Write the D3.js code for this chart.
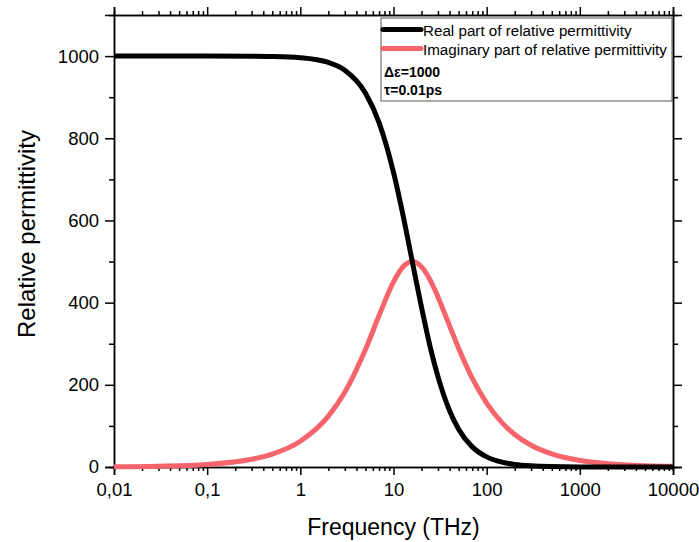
<!DOCTYPE html>
<html>
<head>
<meta charset="utf-8">
<script src="https://cdn.jsdelivr.net/npm/d3@7"></script>
<style>
  body { margin: 0; background: #fff; }
  svg { font-family: "Liberation Sans", Arial, sans-serif; }
</style>
</head>
<body>
<div id="chart"></div>
<script>
// values (frequency in THz)
const freq = [0.01, 0.03, 0.1, 0.3, 0.5, 1, 2, 3, 5, 7, 10, 13, 16, 20, 25, 30, 40, 50, 70, 100, 150, 200, 300, 500, 1000, 2000, 5000, 10000]
const realPart = [1000, 1000, 1000, 999.6, 999, 996, 984.5, 965.7, 910, 838, 717, 600, 497, 388, 288, 220, 137, 92, 49, 24.7, 11.1, 6.3, 2.8, 1, 0.25, 0.06, 0, 0]
const imagPart = [0.6, 1.9, 6.3, 18.8, 31.4, 62.6, 123.7, 182, 286, 368.5, 450.5, 490, 500, 487, 453, 414, 343.6, 289, 216, 155.3, 104.9, 79.1, 52.9, 31.8, 15.9, 8, 3.2, 1.6]
const xTicks = [0.01, 0.1, 1, 10, 100, 1000, 10000]
const xTickLabels = ['0,01', '0,1', '1', '10', '100', '1000', '10000']
const yTicks = [0, 200, 400, 600, 800, 1000]
const legendLabels = ['Real part of relative permittivity', 'Imaginary part of relative permittivity']
const noteLines = ['\u0394\u03b5=1000', '\u03c4=0.01ps']

const width = 699
const height = 542
const margin = { top: 15, right: 26, bottom: 75, left: 114 }
const colors = ['#000000', '#f6646c']
const innerW = width - margin.left - margin.right
const innerH = height - margin.top - margin.bottom

const svg = d3.select('#chart').append('svg').attr('width', width).attr('height', height)
const g = svg.append('g').attr('transform', `translate(${margin.left}, ${margin.top})`)

const x = d3.scaleLog().domain([0.01, 10000]).range([0, innerW])
const y = d3.scaleLinear().domain([0, 1100]).range([innerH, 0])

// minor ticks on log axis: 2..9 of each decade
const minorX = []
for (let e = -2; e < 4; e++) {
  for (let m = 2; m < 10; m++) minorX.push(m * Math.pow(10, e))
}
const minorY = [100, 300, 500, 700, 900]

function styleAxis(sel) {
  sel.select('.domain').attr('stroke', '#000').attr('stroke-width', 1.5)
  sel.selectAll('.tick line').attr('stroke', '#000').attr('stroke-width', 1.5)
  sel.selectAll('.tick text').attr('font-size', 18.5).attr('fill', '#000')
}

// minor ticks first
g.append('g').attr('transform', `translate(0, ${innerH})`)
  .call(d3.axisBottom(x).tickValues(minorX).tickSize(4).tickFormat(''))
  .call(styleAxis)
g.append('g')
  .call(d3.axisTop(x).tickValues(minorX).tickSize(4).tickFormat(''))
  .call(styleAxis)
g.append('g')
  .call(d3.axisLeft(y).tickValues(minorY).tickSize(5).tickFormat(''))
  .call(styleAxis)
g.append('g').attr('transform', `translate(${innerW}, 0)`)
  .call(d3.axisRight(y).tickValues(minorY).tickSize(5).tickFormat(''))
  .call(styleAxis)

// major ticks
g.append('g').attr('transform', `translate(0, ${innerH})`)
  .call(d3.axisBottom(x).tickValues(xTicks).tickSize(8).tickPadding(8).tickFormat((d, i) => xTickLabels[i]))
  .call(styleAxis)
g.append('g')
  .call(d3.axisTop(x).tickValues(xTicks).tickSize(8).tickFormat(''))
  .call(styleAxis)
g.append('g')
  .call(d3.axisLeft(y).tickValues(yTicks).tickSize(9).tickPadding(6).tickFormat(d3.format('d')))
  .call(styleAxis)
g.append('g').attr('transform', `translate(${innerW}, 0)`)
  .call(d3.axisRight(y).tickValues(yTicks).tickSize(9).tickFormat(''))
  .call(styleAxis)

// curves
const series = [realPart, imagPart]
const line = d3.line()
  .x(d => x(d[0]))
  .y(d => y(d[1]))
  .curve(d3.curveMonotoneX)

;[1, 0].forEach(k => {
  g.append('path')
    .datum(freq.map((f, i) => [f, series[k][i]]))
    .attr('fill', 'none')
    .attr('stroke', colors[k])
    .attr('stroke-width', 5)
    .attr('stroke-linejoin', 'round')
    .attr('d', line)
})

// axis titles
svg.append('text')
  .attr('x', margin.left + innerW / 2)
  .attr('y', 535)
  .attr('text-anchor', 'middle')
  .attr('font-size', 23)
  .text('Frequency (THz)')

svg.append('text')
  .attr('transform', `translate(35, 234) rotate(-90)`)
  .attr('text-anchor', 'middle')
  .attr('font-size', 24)
  .text('Relative permittivity')

// legend
const legend = svg.append('g').attr('transform', 'translate(381, 18)')
legend.append('rect')
  .attr('width', 291).attr('height', 83)
  .attr('fill', '#fff').attr('stroke', '#555').attr('stroke-width', 1)

legendLabels.forEach((lab, i) => {
  const yy = 11.5 + i * 19
  legend.append('line')
    .attr('x1', 2).attr('x2', 40).attr('y1', yy).attr('y2', yy)
    .attr('stroke', colors[i]).attr('stroke-width', 5).attr('stroke-linecap', 'round')
  legend.append('text')
    .attr('x', 42).attr('y', yy + 6)
    .attr('font-size', 15.2)
    .text(lab)
})

noteLines.forEach((t, i) => {
  legend.append('text')
    .attr('x', 3).attr('y', 58.5 + i * 18)
    .attr('font-size', 14).attr('font-weight', 'bold')
    .text(t)
})
</script>
</body>
</html>
